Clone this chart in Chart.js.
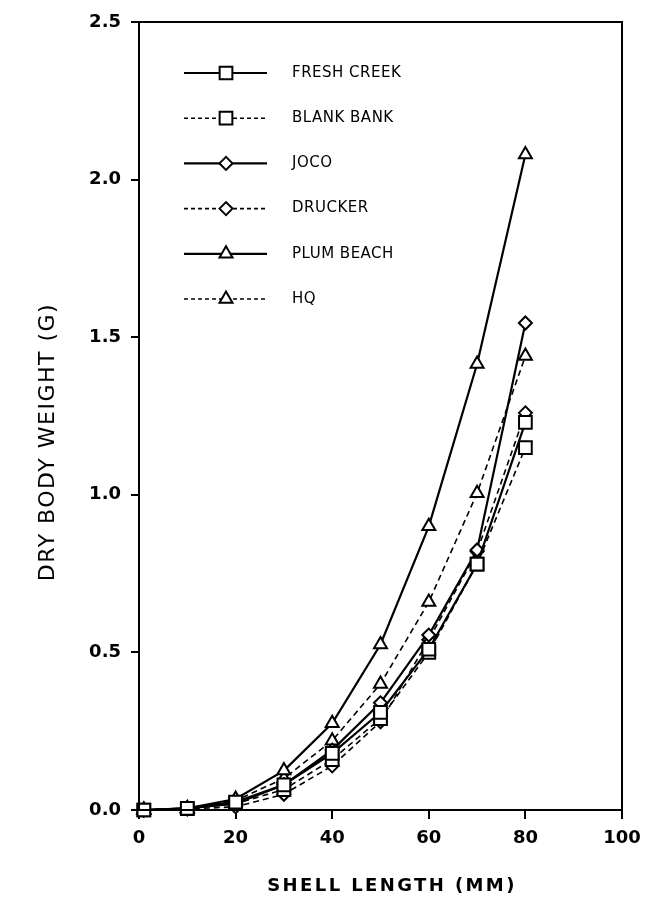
<!DOCTYPE html>
<html>
<head>
<meta charset="utf-8">
<script src="https://cdn.jsdelivr.net/npm/chart.js"></script>
<style>
  html, body { margin: 0; padding: 0; background: #fff; }
  #wrap { width: 650px; height: 901px; }
</style>
</head>
<body>
<div id="wrap"><canvas id="weightChart"></canvas></div>
<script>
// Shell length (mm) vs dry body weight (g)
const shellLength = [1, 10, 20, 30, 40, 50, 60, 70, 80];
const freshCreek = [0, 0.005, 0.025, 0.08, 0.18, 0.31, 0.51, 0.78, 1.23];
const blankBank  = [0, 0.004, 0.02, 0.065, 0.16, 0.29, 0.50, 0.78, 1.15];
const joco       = [0, 0.005, 0.02, 0.08, 0.19, 0.34, 0.555, 0.825, 1.545];
const drucker    = [0, 0.003, 0.01, 0.05, 0.14, 0.28, 0.54, 0.82, 1.26];
const plumBeach  = [0, 0.005, 0.035, 0.125, 0.275, 0.525, 0.90, 1.415, 2.08];
const hq         = [0, 0.005, 0.03, 0.10, 0.22, 0.40, 0.66, 1.005, 1.44];

const siteNames = ["FRESH CREEK", "BLANK BANK", "JOCO", "DRUCKER", "PLUM BEACH", "HQ"];
const xTickLabels = ["0", "20", "40", "60", "80", "100"];
const yTickLabels = ["0.0", "0.5", "1.0", "1.5", "2.0", "2.5"];

const seriesValues = [freshCreek, blankBank, joco, drucker, plumBeach, hq];
const markers = ["rect", "rect", "rectRot", "rectRot", "triangle", "triangle"];
const markerSize = { rect: 9, rectRot: 6.5, triangle: 7.5 };
const dashed = [false, true, false, true, false, true];

const datasets = seriesValues.map(function(vals, i) {
  return {
    label: siteNames[i],
    data: shellLength.map(function(x, j) { return { x: x, y: vals[j] }; }),
    borderColor: "#000",
    borderWidth: dashed[i] ? 1.6 : 2.2,
    borderDash: dashed[i] ? [6, 4] : [],
    backgroundColor: "#fff",
    pointStyle: markers[i],
    pointRadius: markerSize[markers[i]],
    pointBorderWidth: 2,
    pointBorderColor: "#000",
    pointBackgroundColor: "#fff",
    tension: 0,
    fill: false,
    clip: false
  };
});

// frame, legend and axis titles
const framePlugin = {
  id: 'frameLegend',
  afterDatasetsDraw: function(chart) {
    var ctx = chart.ctx;
    var a = chart.chartArea;
    ctx.save();
    ctx.strokeStyle = "#000";
    ctx.lineWidth = 2;
    ctx.strokeRect(a.left, a.top, a.right - a.left, a.bottom - a.top);

    // legend
    ctx.font = "15px 'DejaVu Sans'";
    ctx.letterSpacing = "0.5px";
    ctx.textBaseline = "middle";
    ctx.textAlign = "left";
    chart.data.datasets.forEach(function(ds, i) {
      var y = 73 + i * 45.2;
      ctx.beginPath();
      ctx.lineWidth = ds.borderWidth;
      ctx.setLineDash(dashed[i] ? [4, 3] : []);
      ctx.moveTo(184, y);
      ctx.lineTo(267, y);
      ctx.stroke();
      ctx.setLineDash([]);
      ctx.fillStyle = "#fff";
      ctx.lineWidth = 2;
      Chart.helpers.drawPoint(ctx, {
        pointStyle: ds.pointStyle,
        radius: ds.pointRadius,
        rotation: 0,
        borderWidth: 2
      }, 226, y);
      ctx.fillStyle = "#000";
      ctx.fillText(ds.label, 292, y);
    });

    // axis titles
    ctx.fillStyle = "#000";
    ctx.textAlign = "center";
    ctx.font = "bold 18px 'DejaVu Sans'";
    ctx.letterSpacing = "2.4px";
    ctx.fillText("SHELL LENGTH (MM)", 392, 886);

    ctx.translate(48, 442);
    ctx.rotate(-Math.PI / 2);
    ctx.font = "22px 'DejaVu Sans'";
    ctx.letterSpacing = "1.5px";
    ctx.fillText("DRY BODY WEIGHT (G)", 0, 0);
    ctx.restore();
  }
};

new Chart("weightChart", {
  type: "line",
  data: { datasets: datasets },
  plugins: [framePlugin],
  options: {
    responsive: true,
    maintainAspectRatio: false,
    animation: false,
    layout: { padding: { left: 0, right: 28, top: 22, bottom: 0 } },
    plugins: {
      legend: { display: false },
      tooltip: { enabled: false }
    },
    scales: {
      x: {
        type: "linear",
        min: 0,
        max: 100,
        afterFit: function(scale) { scale.height = 91; },
        ticks: {
          stepSize: 20,
          padding: 9,
          color: "#000",
          font: { family: "DejaVu Sans", size: 18, weight: "bold" },
          callback: function(v, i) { return xTickLabels[i]; }
        },
        grid: { drawOnChartArea: false, color: "#000", lineWidth: 2, tickLength: 9 },
        border: { color: "#000", width: 2 }
      },
      y: {
        min: 0,
        max: 2.5,
        afterFit: function(scale) { scale.width = 139; },
        ticks: {
          stepSize: 0.5,
          padding: 10,
          color: "#000",
          font: { family: "DejaVu Sans", size: 18, weight: "bold" },
          callback: function(v, i) { return yTickLabels[i]; }
        },
        grid: { drawOnChartArea: false, color: "#000", lineWidth: 2, tickLength: 8 },
        border: { color: "#000", width: 2 }
      }
    }
  }
});
</script>
</body>
</html>
